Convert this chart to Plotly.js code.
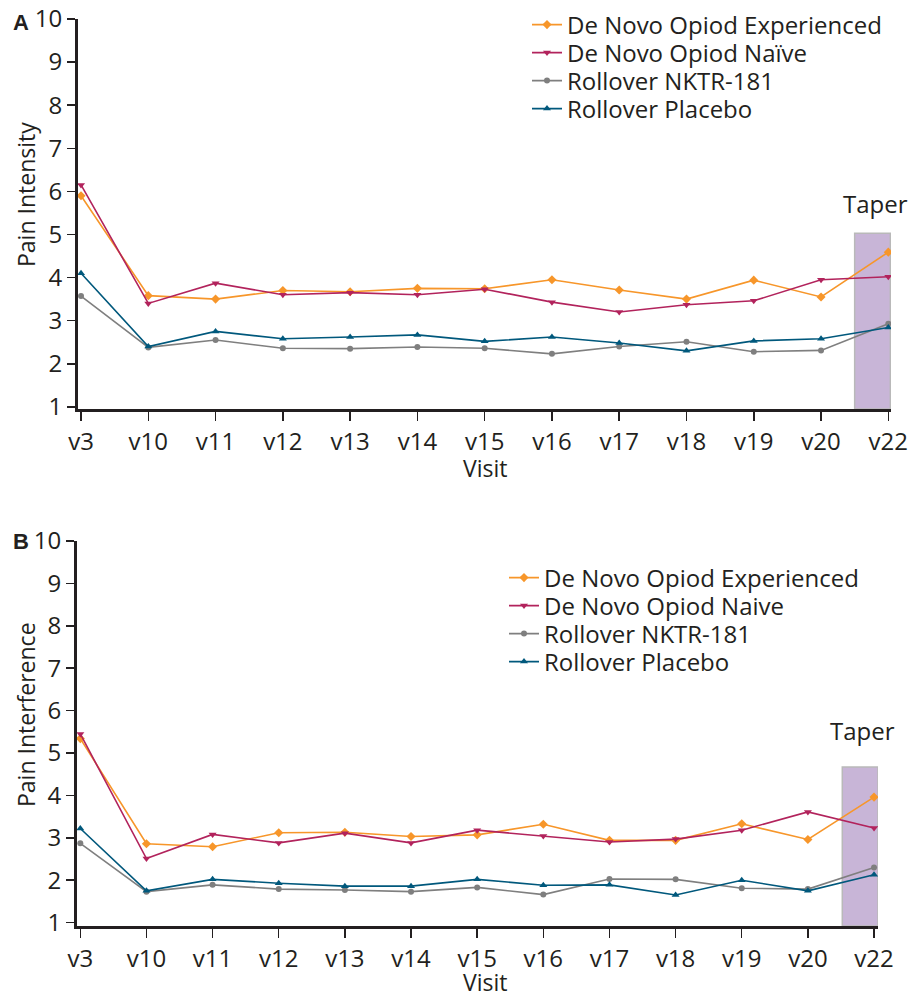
<!DOCTYPE html>
<html>
<head>
<meta charset="utf-8">
<script src="https://cdn.plot.ly/plotly-3.0.1.min.js"></script>
<style>html,body{margin:0;padding:0;background:#fff;}#chart{width:909px;height:995px;}</style>
</head>
<body>
<div id="chart"></div>
<script>
const visits = ["v3","v10","v11","v12","v13","v14","v15","v16","v17","v18","v19","v20","v22"];

// Panel A: Pain Intensity
const intensityExperienced = [5.90,3.58,3.50,3.70,3.67,3.75,3.74,3.95,3.71,3.50,3.94,3.55,4.59];
const intensityNaive       = [6.15,3.40,3.87,3.60,3.65,3.60,3.73,3.43,3.20,3.37,3.46,3.95,4.02];
const intensityNKTR        = [3.57,2.38,2.55,2.36,2.35,2.39,2.36,2.23,2.40,2.51,2.28,2.31,2.93];
const intensityPlacebo     = [4.10,2.40,2.75,2.58,2.62,2.67,2.52,2.62,2.48,2.30,2.53,2.58,2.84];

// Panel B: Pain Interference
const interfExperienced = [5.34,2.86,2.79,3.12,3.13,3.03,3.07,3.32,2.94,2.94,3.33,2.96,3.96];
const interfNaive       = [5.45,2.51,3.08,2.88,3.11,2.88,3.18,3.04,2.90,2.97,3.18,3.61,3.23];
const interfNKTR        = [2.87,1.73,1.89,1.79,1.77,1.73,1.83,1.66,2.03,2.02,1.81,1.79,2.30];
const interfPlacebo     = [3.22,1.75,2.02,1.93,1.86,1.86,2.02,1.88,1.89,1.65,2.00,1.75,2.13];

const namesA = ["De Novo Opiod Experienced","De Novo Opiod Naïve","Rollover NKTR-181","Rollover Placebo"];
const namesB = ["De Novo Opiod Experienced","De Novo Opiod Naive","Rollover NKTR-181","Rollover Placebo"];
const yTicks = [1,2,3,4,5,6,7,8,9,10];

const colors = ["#f7962a","#b2235c","#7f7f7f","#00587c"];
const symbols = ["diamond","triangle-down","circle","triangle-up"];
const sizes = [7,7,6,7];

const W = 909, H = 995;
const px = v => v / W;
const py = v => 1 - v / H;

const seriesA = [intensityExperienced, intensityNaive, intensityNKTR, intensityPlacebo];
const seriesB = [interfExperienced, interfNaive, interfNKTR, interfPlacebo];

const ink = "#231f20";
const fam = "Open Sans, Noto Sans, sans-serif";
const font = {family: fam, size: 24, color: ink};
const titleFont = {family: fam, size: 23, color: ink};

// legend rows (one small legend per trace so row spacing matches the figure)
const legRowsA = [25, 53, 81, 109];
const legRowsB = [578, 606, 634, 662];

const traces = [];
const legends = {};
seriesA.forEach((s, i) => {
  const key = i === 0 ? "legend" : "legend" + (i + 1);
  legends[key] = {x: px(527), y: py(legRowsA[i]), xanchor: "left", yanchor: "middle", font: font,
    bgcolor: "rgba(0,0,0,0)", itemwidth: 30};
  traces.push({
    x: visits, y: s, name: namesA[i], type: "scatter", mode: "lines+markers",
    xaxis: "x", yaxis: "y", legend: key,
    line: {color: colors[i], width: 1.6},
    marker: {color: colors[i], symbol: symbols[i], size: sizes[i]}
  });
});
seriesB.forEach((s, i) => {
  const key = "legend" + (i + 5);
  legends[key] = {x: px(504), y: py(legRowsB[i]), xanchor: "left", yanchor: "middle", font: font,
    bgcolor: "rgba(0,0,0,0)", itemwidth: 30};
  traces.push({
    x: visits, y: s, name: namesB[i], type: "scatter", mode: "lines+markers",
    xaxis: "x2", yaxis: "y2", legend: key,
    line: {color: colors[i], width: 1.6},
    marker: {color: colors[i], symbol: symbols[i], size: sizes[i]}
  });
});

function xAxis(domain, range, anchor) {
  return {domain, range, anchor, type: "category", showline: true, linewidth: 3, linecolor: ink,
    ticks: "outside", ticklen: 9, tickwidth: 1.5, tickcolor: ink, showgrid: false, zeroline: false,
    tickfont: font, fixedrange: true};
}
function yAxis(domain, range, anchor) {
  return {domain, range, anchor, showline: true, linewidth: 3, linecolor: ink,
    tickvals: yTicks, ticktext: yTicks.map(String),
    ticks: "outside", ticklen: 8, tickwidth: 1.5, tickcolor: ink, showgrid: false, zeroline: false,
    tickfont: font, fixedrange: true};
}

function label(text, x, y, f, extra) {
  return Object.assign({text, xref: "paper", yref: "paper", x: px(x), y: py(y), showarrow: false,
    xanchor: "center", yanchor: "middle", font: f}, extra || {});
}

const boldFont = {family: "Liberation Sans, Arial, sans-serif", size: 22, color: ink};

const layout = Object.assign({
  width: W, height: H,
  margin: {l: 0, r: 0, t: 0, b: 0},
  paper_bgcolor: "#fff", plot_bgcolor: "#fff",
  font: font,
  showlegend: true,
  xaxis: xAxis([px(78), px(891)], [-0.045, 12.04], "y"),
  yaxis: yAxis([py(409), py(19)], [0.95, 10], "x"),
  xaxis2: xAxis([px(77), px(878)], [-0.05, 12.06], "y2"),
  yaxis2: yAxis([py(926), py(541)], [0.92, 10], "x2"),
  shapes: [
    {type: "rect", xref: "x", yref: "y", x0: 11.5, x1: 12.03, y0: 0.95, y1: 5.03,
      fillcolor: "#c8b5d7", line: {color: "#b9b9b9", width: 1.5}, layer: "below"},
    {type: "rect", xref: "x2", yref: "y2", x0: 11.52, x1: 12.06, y0: 0.92, y1: 4.67,
      fillcolor: "#c8b5d7", line: {color: "#b9b9b9", width: 1.5}, layer: "below"}
  ],
  annotations: [
    label("<b>A</b>", 21, 22, boldFont),
    label("<b>B</b>", 21, 541, boldFont),
    label("Pain Intensity", 26, 195, titleFont, {textangle: -90}),
    label("Pain Interference", 26, 715, titleFont, {textangle: -90}),
    label("Visit", 485, 468, titleFont),
    label("Visit", 485, 982, titleFont),
    label("Taper", 875, 204, font),
    label("Taper", 862, 730, font)
  ]
}, legends);

Plotly.newPlot("chart", traces, layout, {staticPlot: true, displayModeBar: false});
</script>
</body>
</html>
